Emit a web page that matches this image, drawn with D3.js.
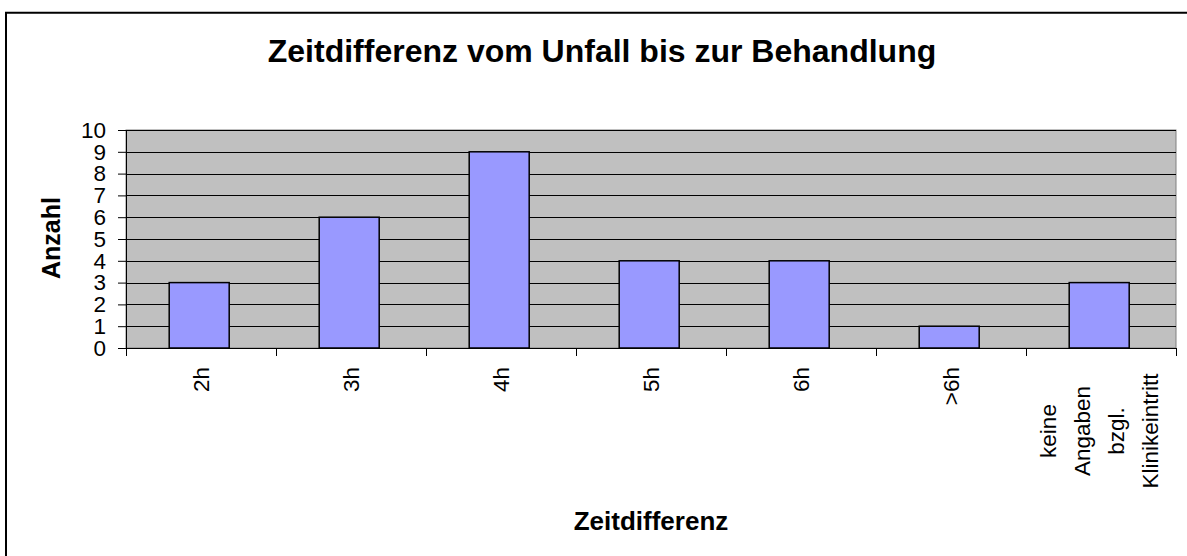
<!DOCTYPE html>
<html><head><meta charset="utf-8">
<script src="https://cdn.jsdelivr.net/npm/d3@7/dist/d3.min.js"></script>
<style>html,body{margin:0;padding:0;background:#fff;overflow:hidden}svg{display:block}text{font-family:"Liberation Sans",Arial,sans-serif;fill:#000}</style>
</head><body>
<svg id="c" width="1187" height="556"></svg>
<script>
const categories = ["2h","3h","4h","5h","6h",">6h","keine Angaben bzgl. Klinikeintritt"];
const labelLines = [["2h"],["3h"],["4h"],["5h"],["6h"],[">6h"],["keine","Angaben","bzgl.","Klinikeintritt"]];
const values = [3,6,9,4,4,1,3];
const yTicks = [0,1,2,3,4,5,6,7,8,9,10];
const title = "Zeitdifferenz vom Unfall bis zur Behandlung";
const xTitle = "Zeitdifferenz";
const yTitle = "Anzahl";

const svg = d3.select("#c");
const L = 126, R = 1176, T = 130, B = 348;

svg.append("rect").attr("x",6).attr("y",12.75).attr("width",1200).attr("height",600)
  .attr("fill","#fff").attr("stroke","#000").attr("stroke-width",2);

const xCat = d3.scaleBand().domain(categories).range([L,R]).padding(0);
const xBar = d3.scaleBand().domain(categories).range([L,R]).paddingInner(0.6).paddingOuter(0.3).align(0.48);
const y = d3.scaleLinear().domain([0,10]).range([B,T]);

svg.append("rect").attr("x",L).attr("y",T).attr("width",R-L).attr("height",B-T)
  .attr("fill","#c0c0c0").attr("stroke","#808080").attr("stroke-width",1);

svg.append("g").selectAll("line").data(yTicks.filter(d=>d>0)).join("line")
  .attr("x1",L).attr("x2",R).attr("y1",d=>Math.round(y(d))+0.5).attr("y2",d=>Math.round(y(d))+0.5)
  .attr("stroke","#000").attr("stroke-width",1);

svg.append("g").selectAll("rect").data(values).join("rect")
  .attr("x",(d,i)=>xBar(categories[i])).attr("width",xBar.bandwidth())
  .attr("y",d=>y(d)).attr("height",d=>B-y(d))
  .attr("fill","#9999ff").attr("stroke","#000").attr("stroke-width",1.5);

// y axis
const ya = svg.append("g").attr("transform",`translate(${L},0)`)
  .call(d3.axisLeft(y).tickValues(yTicks).tickSize(8).tickPadding(12).tickFormat(d3.format("d")));
ya.select(".domain").attr("stroke","#000");
ya.selectAll(".tick line").attr("stroke","#000");
ya.selectAll("text").attr("font-size",22.5).attr("font-family","Liberation Sans, Arial, sans-serif").attr("fill","#000");

// x axis
const xa = svg.append("g").attr("transform",`translate(0,${B})`)
  .call(d3.axisBottom(xCat).tickSize(0).tickFormat(""));
xa.select(".domain").attr("stroke","#000");
xa.selectAll(".tick").remove();
const bounds = categories.map(c=>xCat(c)).concat([R]);
svg.append("g").selectAll("line").data(bounds).join("line")
  .attr("x1",d=>Math.round(d)+0.5).attr("x2",d=>Math.round(d)+0.5).attr("y1",B).attr("y2",B+8)
  .attr("stroke","#000");

// x labels
const lg = svg.append("g");
labelLines.forEach((lines,i)=>{
  const cx = xCat(categories[i]) + xCat.bandwidth()/2;
  if(lines.length===1){
    lg.append("text").attr("transform",`translate(${cx},367) rotate(-90)`)
      .attr("text-anchor","end").attr("dy","0.35em").attr("font-size",22.5).text(lines[0]);
  } else {
    const sp = 34;
    lines.forEach((t,j)=>{
      const lx = cx - 2 + (j-(lines.length-1)/2)*sp;
      lg.append("text").attr("transform",`translate(${lx},431) rotate(-90)`)
        .attr("text-anchor","middle").attr("dy","0.35em").attr("font-size",22.5).text(t);
    });
  }
});

svg.append("text").attr("x",602).attr("y",62).attr("text-anchor","middle")
  .attr("font-size",32).attr("font-weight","bold").text(title);
svg.append("text").attr("x",651).attr("y",530).attr("text-anchor","middle")
  .attr("font-size",26).attr("font-weight","bold").text(xTitle);
svg.append("text").attr("transform","translate(60,238) rotate(-90)").attr("text-anchor","middle")
  .attr("font-size",25).attr("font-weight","bold").text(yTitle);
</script>
</body></html>
